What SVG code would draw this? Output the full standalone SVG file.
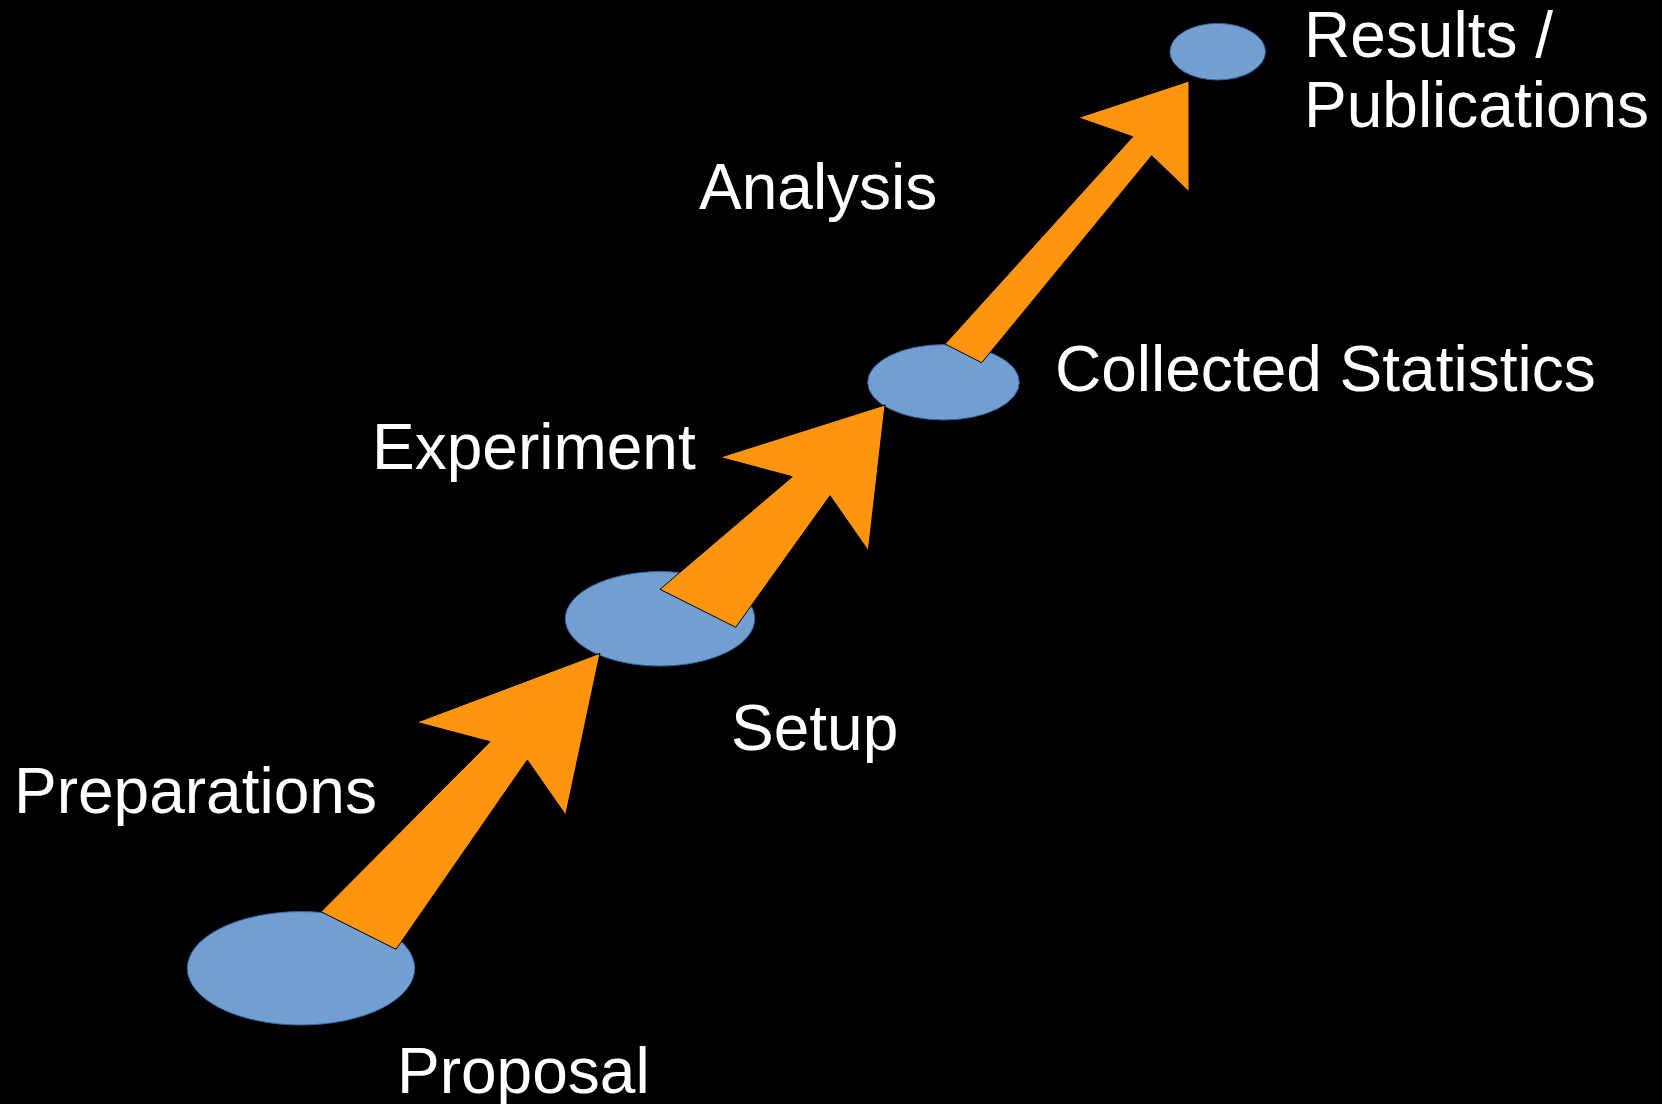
<svg xmlns="http://www.w3.org/2000/svg" width="1662" height="1104" viewBox="0 0 1662 1104">
  <style>
    .stage { fill: #729fcf; stroke: #3465a4; stroke-width: 1; }
    .step { fill: #ff950e; stroke: #000000; stroke-width: 1; stroke-linejoin: miter; }
    .label { font-family: "Liberation Sans", Arial, sans-serif; font-size: 64px; fill: #ffffff; }
  </style>
  <rect width="1662" height="1104" fill="#000000"/>

  <!-- milestones -->
  <g id="proposal">
    <ellipse class="stage" cx="301" cy="968.3" rx="113.7" ry="56.7"/>
    <text class="label" x="397" y="1093">Proposal</text>
  </g>
  <g id="setup">
    <ellipse class="stage" cx="660" cy="618.8" rx="94.7" ry="47.2"/>
    <text class="label" x="731" y="749.5">Setup</text>
  </g>
  <g id="collected-statistics">
    <ellipse class="stage" cx="943.5" cy="382.3" rx="75.8" ry="37.7"/>
    <text class="label" x="1055" y="391">Collected Statistics</text>
  </g>
  <g id="results">
    <ellipse class="stage" cx="1217.7" cy="51.7" rx="47.7" ry="28.3"/>
    <text class="label" x="1304" y="57.3">Results /</text>
    <text class="label" x="1304" y="126.7">Publications</text>
  </g>

  <!-- phase arrows between milestones -->
  <g id="connectors">
    <g id="preparations">
      <polygon class="step" points="321,911.7 490,741.7 416.7,722.3 600,653.3 565.7,815 527.3,760 396,949.3"/>
      <text class="label" x="14" y="812.7">Preparations</text>
    </g>
    <g id="experiment">
      <polygon class="step" points="660,589.3 792.3,476.7 720,457.3 885,405 868.3,550.7 830,495.7 735.7,627.3"/>
      <text class="label" x="372" y="468.5">Experiment</text>
    </g>
    <g id="analysis">
      <polygon class="step" points="945,344 1132.7,136.7 1078.3,117.7 1189,81 1189,191.7 1151.7,155.7 981.7,362.7"/>
      <text class="label" x="699" y="208.5">Analysis</text>
    </g>
  </g>
</svg>
